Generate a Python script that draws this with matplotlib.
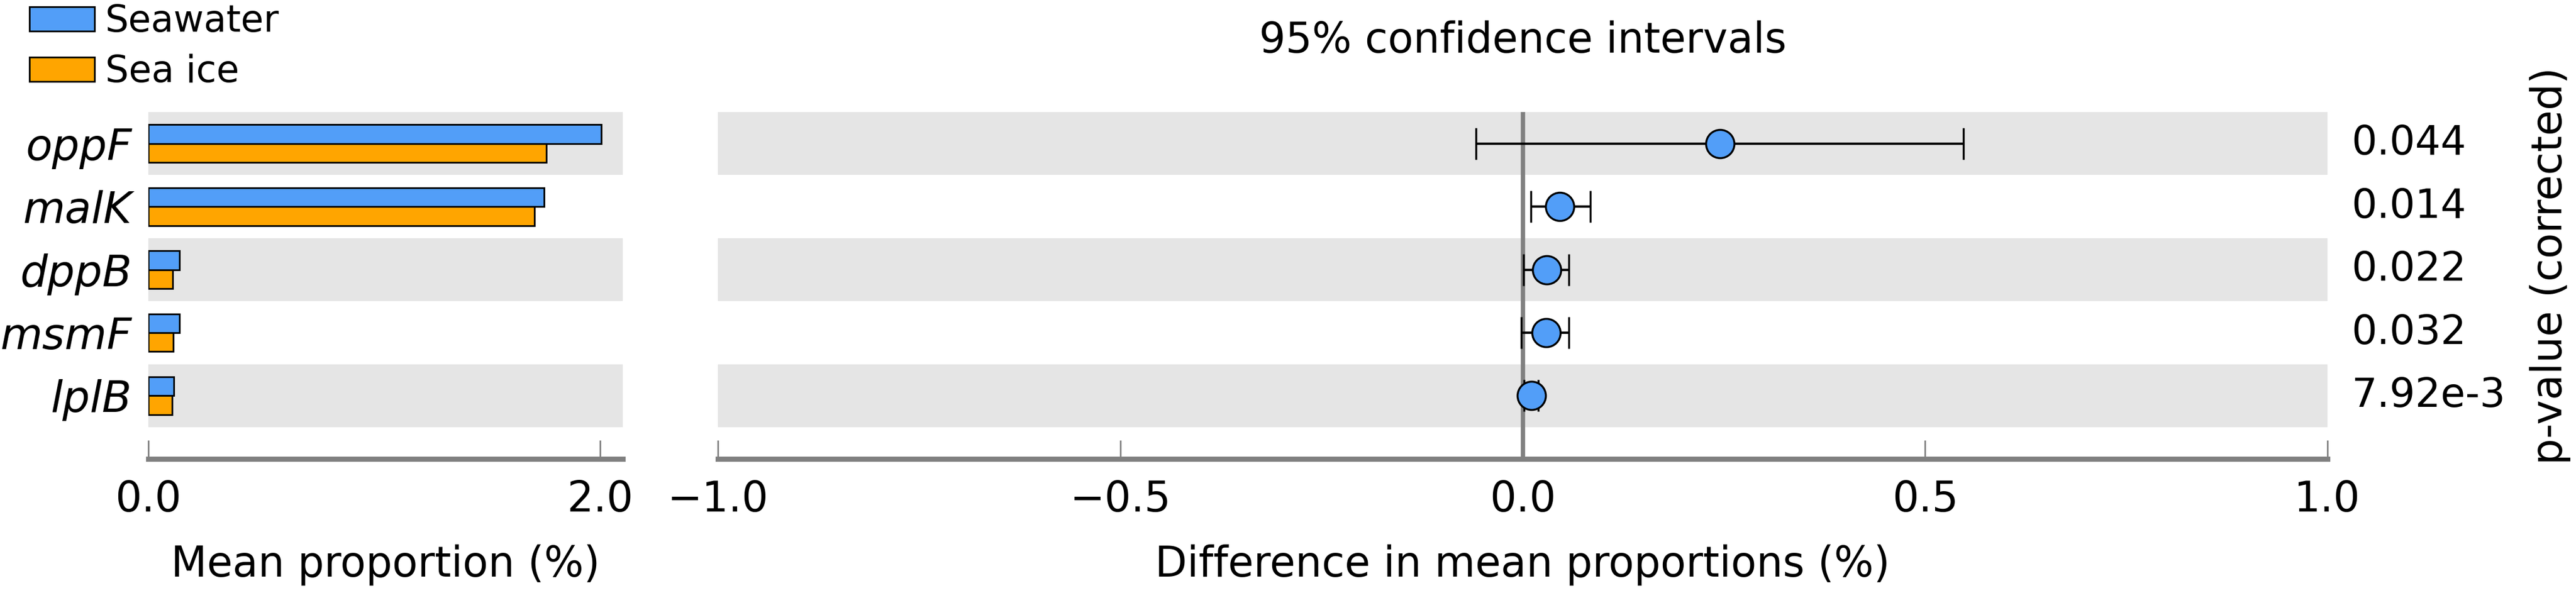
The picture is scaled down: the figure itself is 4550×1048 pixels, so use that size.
import numpy as np
import matplotlib.pyplot as plt
from matplotlib.patches import Patch
import matplotlib.transforms as mtransforms

genes = ["oppF", "malK", "dppB", "msmF", "lplB"]
seawater = [2.004, 1.750, 0.138, 0.138, 0.113]
sea_ice = [1.762, 1.708, 0.107, 0.109, 0.104]
diff = [0.245, 0.046, 0.030, 0.029, 0.011]
ci_low = [-0.058, 0.010, 0.001, -0.002, 0.002]
ci_high = [0.548, 0.084, 0.057, 0.057, 0.019]
pvals = ["0.044", "0.014", "0.022", "0.032", "7.92e-3"]

blue = "#529EF8"
orange = "#FFA500"
band = "#E5E5E5"
axgray = "#808080"
fs = 53

plt.rcParams["font.family"] = "DejaVu Sans"

fig = plt.figure(figsize=(45.5, 10.48), dpi=100)
ax1 = fig.add_axes([0.0576, 0.2262, 0.1842, 0.585])
ax2 = fig.add_axes([0.2787, 0.2262, 0.6248, 0.585])

n = len(genes)
y = np.arange(n)[::-1]

for ax in (ax1, ax2):
	for i in range(0, n, 2):
		ax.axhspan(y[i]-0.5, y[i]+0.5, color=band, lw=0, zorder=0)
	ax.set_ylim(-1.0, n-0.5)
	for s in ("left", "right", "top"):
		ax.spines[s].set_visible(False)
	ax.spines["bottom"].set_color(axgray)
	ax.spines["bottom"].set_linewidth(6.5)
	ax.tick_params(axis="x", direction="in", length=24, width=2, color=axgray,
				   labelsize=fs, pad=26)

# left panel: mean proportions
h = 0.3
ax1.barh(y+h/2, seawater, height=h, color=blue, edgecolor="black", lw=2.2, zorder=2)
ax1.barh(y-h/2, sea_ice, height=h, color=orange, edgecolor="black", lw=2.2, zorder=2)
ax1.set_xlim(0, 2.1)
ax1.set_xticks([0.0, 2.0])
ax1.set_xticklabels(["0.0", "2.0"])
ax1.set_yticks(y)
ax1.set_yticklabels(genes, fontsize=fs+2, style="italic")
ax1.tick_params(axis="y", length=0, pad=21)
ax1.set_xlabel("Mean proportion (%)", fontsize=fs, labelpad=30)

fig.legend(handles=[Patch(facecolor=blue, edgecolor="black", lw=2.2, label="Seawater"),
					Patch(facecolor=orange, edgecolor="black", lw=2.2, label="Sea ice")],
		   loc="upper left", bbox_to_anchor=(0.0114, 0.994), frameon=False,
		   fontsize=47, handlelength=1.76, handleheight=0.64, handletextpad=0.29,
		   labelspacing=0.38, borderpad=0, borderaxespad=0)

# right panel: difference with CI
ax2.axvline(0, color=axgray, lw=5.5, zorder=1)
err = [np.array(diff)-np.array(ci_low), np.array(ci_high)-np.array(diff)]
ax2.errorbar(diff, y, xerr=err, fmt="o", color="black", elinewidth=3, capsize=20,
			 capthick=2, markersize=36, markerfacecolor=blue, markeredgecolor="black",
			 markeredgewidth=2.5, zorder=3)
ax2.set_xlim(-1.0, 1.0)
ax2.set_xticks([-1.0, -0.5, 0.0, 0.5, 1.0])
ax2.set_yticks([])
ax2.set_xlabel("Difference in mean proportions (%)", fontsize=fs, labelpad=30)
fig.text(0.5912, 0.911, "95% confidence intervals", fontsize=fs, ha="center", va="baseline")

trans = mtransforms.blended_transform_factory(ax2.transAxes, ax2.transData)
for yi, p in zip(y, pvals):
	ax2.text(1.0148, yi, p, transform=trans, fontsize=fs-2, ha="left", va="center")

fig.text(0.990, 0.5515, "p-value (corrected)", fontsize=fs, rotation=90,
		 ha="center", va="center")

fig.savefig("out.png", dpi=100)
plt.close()
